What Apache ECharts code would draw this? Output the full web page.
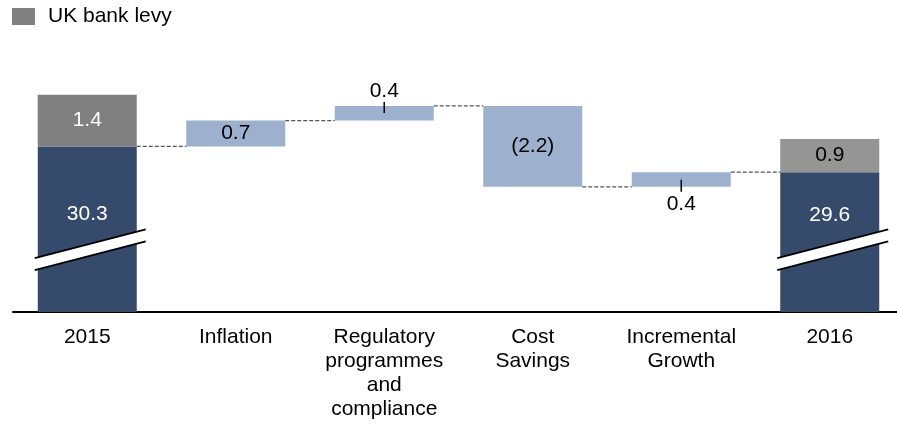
<!DOCTYPE html>
<html>
<head>
<meta charset="utf-8">
<script src="https://cdn.jsdelivr.net/npm/echarts@6/dist/echarts.min.js"></script>
<style>
  html, body { margin: 0; padding: 0; background: #fff; }
  #chart { width: 897px; height: 427px; }
</style>
</head>
<body>
<div id="chart"></div>
<script>
// data
const categories = ['2015', 'Inflation', 'Regulatory\nprogrammes\nand\ncompliance', 'Cost\nSavings', 'Incremental\nGrowth', '2016'];
const baseValues = [30.3, '-', '-', '-', '-', 29.6];   // excl. bank levy
const levyValues = [1.4, '-', '-', '-', '-', 0.9];     // UK bank levy
const changeValues = [null, 0.7, 0.4, -2.2, 0.4, null];
const breakLevel = 27.47;   // where the axis break is drawn on the total bars

const FONT = "'Liberation Sans', Arial, sans-serif";
const FS = 21;
const BAR_W = 99;

// waterfall: invisible helper + visible step
const helper = [];
const steps = [];
const levels = [];   // running level after each category
let level = baseValues[0];
levels.push(level);
for (let i = 1; i < categories.length - 1; i++) {
  const c = changeValues[i];
  const next = level + c;
  helper[i] = Math.min(level, next);
  steps[i] = Math.abs(c);
  level = next;
  levels.push(level);
}
helper[0] = '-'; helper[categories.length - 1] = '-';
steps[0] = '-'; steps[categories.length - 1] = '-';

const fmtChange = (v) => (v < 0 ? '(' + Math.abs(v).toFixed(1) + ')' : v.toFixed(1));
// where each step label goes
const stepLabelPos = [null, 'inside', 'top', 'inside', 'bottom', null];

const chart = echarts.init(document.getElementById('chart'));

const option = {
  animation: false,
  textStyle: { fontFamily: FONT },
  legend: {
    data: ['UK bank levy'],
    left: 12,
    top: 6,
    padding: 0,
    icon: 'rect',
    itemWidth: 23,
    itemHeight: 17,
    textStyle: { fontFamily: FONT, fontSize: 21, color: '#000', padding: [0, 0, 0, 8] }
  },
  grid: { left: 13, right: -7, top: 47, bottom: 115, outerBoundsMode: 'none' },
  xAxis: {
    type: 'category',
    data: categories,
    axisLine: { lineStyle: { color: '#000', width: 2 } },
    axisTick: { show: false },
    axisLabel: {
      interval: 0,
      margin: 13,
      fontFamily: FONT,
      fontSize: FS,
      lineHeight: 24,
      color: '#000'
    }
  },
  yAxis: {
    type: 'value',
    min: 25.8,
    max: 33,
    show: false,
    splitLine: { show: false }
  },
  series: [
    {
      name: 'base',
      type: 'bar',
      stack: 'w',
      barWidth: BAR_W,
      data: baseValues.map((v, i) => ({
        value: v,
        label: { distance: i === 0 ? 57 : 33 }
      })),
      itemStyle: { color: '#364B6B' },
      label: {
        show: true,
        position: 'insideTop',
        color: '#fff',
        fontFamily: FONT,
        fontSize: FS,
        formatter: (p) => Number(p.value).toFixed(1)
      }
    },
    {
      name: 'UK bank levy',
      type: 'bar',
      stack: 'w',
      barWidth: BAR_W,
      data: levyValues.map((v, i) => (i === 0
        ? { value: v }
        : { value: v, itemStyle: { color: '#959595' }, label: { color: '#000' } })),
      itemStyle: { color: '#808080' },
      label: {
        show: true,
        position: 'inside',
        color: '#fff',
        fontFamily: FONT,
        fontSize: FS,
        formatter: (p) => Number(p.value).toFixed(1)
      }
    },
    {
      name: 'helper',
      type: 'bar',
      stack: 'w',
      barWidth: BAR_W,
      data: helper,
      itemStyle: { color: 'transparent' },
      silent: true
    },
    {
      name: 'step',
      type: 'bar',
      stack: 'w',
      barWidth: BAR_W,
      data: steps.map((v, i) => ({
        value: v,
        label: {
          position: stepLabelPos[i] || 'inside',
          distance: stepLabelPos[i] === 'bottom' ? 7 : 4
        }
      })),
      itemStyle: { color: '#9DB0CE' },
      label: {
        show: true,
        color: '#000',
        fontFamily: FONT,
        fontSize: FS,
        formatter: (p) => fmtChange(changeValues[p.dataIndex])
      }
    },
    {
      // dashed connectors between bars
      name: 'connectors',
      type: 'custom',
      z: 3,
      silent: true,
      data: levels.map((l, i) => [i, l]),
      renderItem: function (params, api) {
        const i = api.value(0);
        const l = api.value(1);
        const a = api.coord([i, l]);
        const b = api.coord([i + 1, l]);
        return {
          type: 'line',
          shape: { x1: a[0] + BAR_W / 2, y1: a[1], x2: b[0] - BAR_W / 2, y2: b[1] },
          style: { stroke: '#555', lineWidth: 1.2, lineDash: [4, 2] }
        };
      }
    },
    {
      // little ticks tying the outside labels to their bars
      name: 'ticks',
      type: 'custom',
      z: 4,
      silent: true,
      data: [[2, levels[2], 1], [4, levels[3], -1]],
      renderItem: function (params, api) {
        const p = api.coord([api.value(0), api.value(1)]);
        const up = api.value(2) > 0;
        return {
          type: 'line',
          shape: { x1: p[0], y1: p[1] + (up ? -4 : -7), x2: p[0], y2: p[1] + (up ? 7 : 5) },
          style: { stroke: '#000', lineWidth: 1.5 }
        };
      }
    },
    {
      // axis break marks on the total bars
      name: 'breaks',
      type: 'custom',
      z: 5,
      silent: true,
      data: [[0, breakLevel], [5, breakLevel]],
      renderItem: function (params, api) {
        const p = api.coord([api.value(0), api.value(1)]);
        const cx = p[0], cy = p[1];
        const x1 = cx - BAR_W / 2 - 3, x2 = cx + BAR_W / 2 + 9;
        const yAt = (x, off) => cy + off - 0.26 * (x - cx);
        return {
          type: 'group',
          children: [
            {
              type: 'polygon',
              shape: { points: [[x1, yAt(x1, -6)], [x2, yAt(x2, -6)], [x2, yAt(x2, 6)], [x1, yAt(x1, 6)]] },
              style: { fill: '#fff' }
            },
            {
              type: 'line',
              shape: { x1: x1, y1: yAt(x1, -6), x2: x2, y2: yAt(x2, -6) },
              style: { stroke: '#000', lineWidth: 1.8 }
            },
            {
              type: 'line',
              shape: { x1: x1, y1: yAt(x1, 6), x2: x2, y2: yAt(x2, 6) },
              style: { stroke: '#000', lineWidth: 1.8 }
            }
          ]
        };
      }
    }
  ]
};

chart.setOption(option);
</script>
</body>
</html>
